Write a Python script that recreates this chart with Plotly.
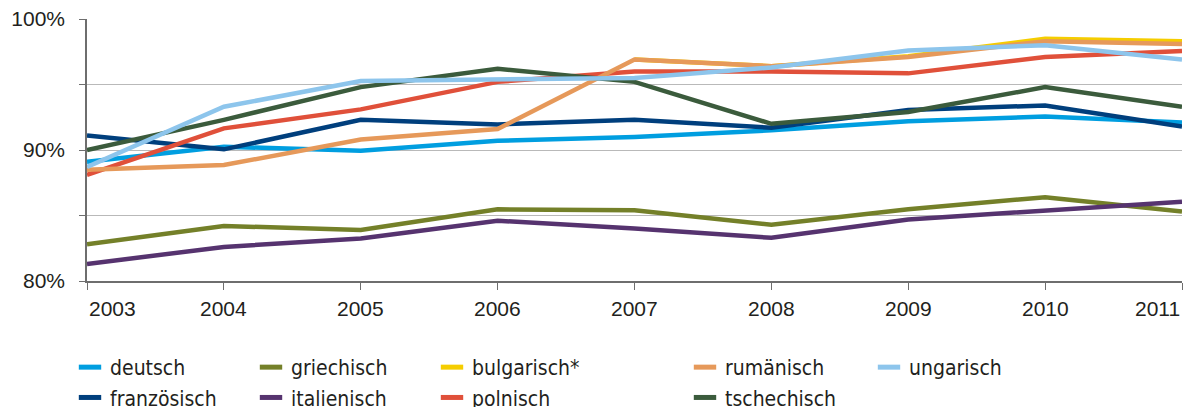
import plotly.graph_objects as go

years = [2003, 2004, 2005, 2006, 2007, 2008, 2009, 2010, 2011]

deutsch      = [89.1, 90.25, 89.95, 90.7, 91.0, 91.5, 92.2, 92.55, 92.1]
franzoesisch = [91.1, 90.05, 92.3, 91.95, 92.3, 91.7, 93.05, 93.4, 91.8]
griechisch   = [82.8, 84.2, 83.9, 85.47, 85.4, 84.3, 85.47, 86.4, 85.3]
italienisch  = [81.3, 82.6, 83.25, 84.6, 84.0, 83.3, 84.7, 85.35, 86.05]
bulgarisch   = [None, None, None, None, 96.9, 96.4, 97.15, 98.5, 98.3]
polnisch     = [88.1, 91.65, 93.1, 95.2, 96.0, 96.0, 95.85, 97.1, 97.55]
rumaenisch   = [88.5, 88.85, 90.8, 91.6, 96.9, 96.4, 97.1, 98.3, 98.1]
tschechisch  = [90.0, 92.3, 94.8, 96.2, 95.2, 92.0, 92.9, 94.8, 93.3]
ungarisch    = [88.7, 93.3, 95.27, 95.4, 95.5, 96.3, 97.6, 98.0, 96.9]

y_tickvals = [80, 85, 90, 95, 100]
y_ticktext = ["80%", "", "90%", "", "100%"]

# name, values, colour, legend column
series = [
    ("deutsch", deutsch, "#009ee0", "legend"),
    ("französisch", franzoesisch, "#003f7d", "legend"),
    ("griechisch", griechisch, "#748029", "legend2"),
    ("italienisch", italienisch, "#56336f", "legend2"),
    ("bulgarisch*", bulgarisch, "#f5cd00", "legend3"),
    ("polnisch", polnisch, "#e0503a", "legend3"),
    ("rumänisch", rumaenisch, "#e6995a", "legend4"),
    ("tschechisch", tschechisch, "#3b5b3c", "legend4"),
    ("ungarisch", ungarisch, "#8dc5ec", "legend5"),
]

W, H = 1194, 407

fig = go.Figure()
for name, vals, col, lg in series:
    fig.add_trace(go.Scatter(
        x=years, y=vals, mode="lines", name=name,
        line=dict(color=col, width=4.5), showlegend=False,
        hoverinfo="skip",
    ))
# legend entries (short bar symbols), no data drawn
for name, vals, col, lg in series:
    fig.add_trace(go.Scatter(
        x=[None], y=[None], mode="markers", name=name, legend=lg,
        marker=dict(symbol="line-ew", size=16, color=col,
                    line=dict(color=col, width=5)),
        showlegend=True, hoverinfo="skip",
    ))

legend_font = dict(family="DejaVu Sans Condensed, DejaVu Sans, sans-serif",
                   size=21, color="#231f20")
text_x = [110, 291, 472, 725, 909]
legs = {}
for i, tx in enumerate(text_x):
    key = "legend" if i == 0 else f"legend{i+1}"
    legs[key] = dict(
        x=(tx - 40) / W, xref="container", xanchor="left",
        y=1 - 347 / H, yref="container", yanchor="top",
        orientation="v", font=legend_font, bgcolor="rgba(0,0,0,0)",
        tracegroupgap=0, itemclick=False, itemdoubleclick=False,
    )

annotations = []
for i, yr in enumerate(years):
    anchor = "left" if i == 0 else ("right" if i == len(years) - 1 else "center")
    annotations.append(dict(
        x=yr, y=0, xref="x", yref="paper", text=str(yr), showarrow=False,
        xanchor=anchor, yanchor="top", yshift=-14,
        font=dict(family="Liberation Sans, Arial, sans-serif", size=21, color="#231f20"),
    ))

fig.update_layout(
    width=W, height=H,
    margin=dict(l=87, r=12, t=19, b=126, autoexpand=False),
    paper_bgcolor="white", plot_bgcolor="white",
    showlegend=True,
    annotations=annotations,
    **legs,
)
fig.update_xaxes(
    range=[2003, 2011], tickvals=years, showticklabels=False,
    ticks="outside", ticklen=7, tickcolor="#6e6e6e", tickwidth=1.3,
    showline=True, linecolor="#6e6e6e", linewidth=1.5,
    showgrid=False, zeroline=False, automargin=False,
)
fig.update_yaxes(
    range=[80, 100], tickvals=y_tickvals, ticktext=y_ticktext,
    ticks="outside", ticklen=6, tickcolor="#6e6e6e", tickwidth=1.3,
    showline=True, linecolor="#6e6e6e", linewidth=1.5,
    showgrid=True, gridcolor="#b9b9b9", gridwidth=1.3, zeroline=False,
    ticklabelstandoff=10, automargin=False, ticklabeloverflow="allow",
    tickfont=dict(family="Liberation Sans, Arial, sans-serif", size=21, color="#231f20"),
)

fig.write_html("out.html", config={"displayModeBar": False},
               post_script="document.body.style.margin='0';")
